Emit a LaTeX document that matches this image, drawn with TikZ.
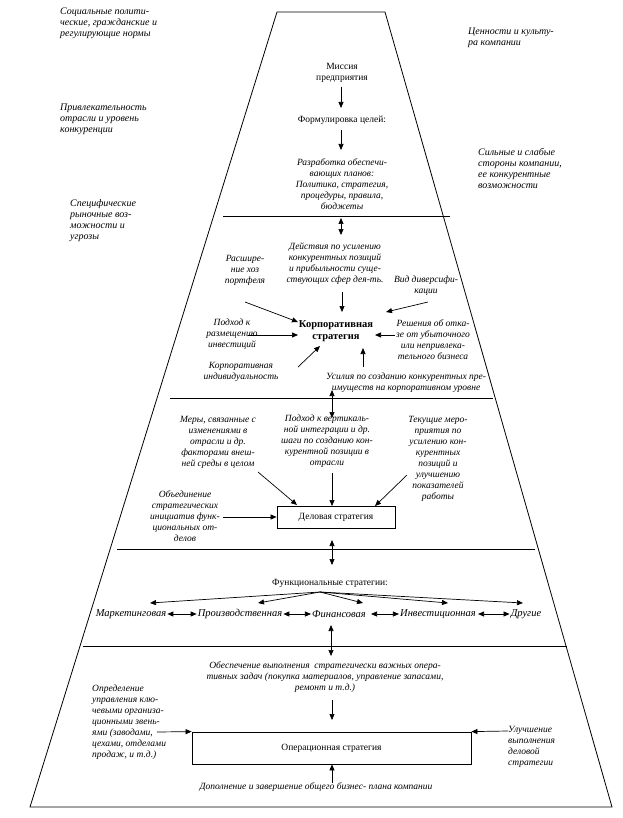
\documentclass[tikz,border=0pt]{standalone}
\usepackage{fontspec}
\setmainfont{Liberation Serif}
\usetikzlibrary{arrows.meta}
\begin{document}
\begin{tikzpicture}[x=1pt,y=-1pt,
  txt/.style={inner sep=0pt, font=\fontsize{9.5}{11}\selectfont\itshape, align=center},
  txtl/.style={txt, align=left, anchor=west},
  outl/.style={txtl, font=\fontsize{10}{11}\selectfont\itshape},
  rm/.style={inner sep=0pt, font=\fontsize{9.5}{11}\selectfont, align=center},
  fn/.style={inner sep=0pt, font=\fontsize{10.5}{12}\selectfont\itshape},
  tip/.style={-{Triangle[length=6pt,width=5pt]}, line width=0.7pt},
  dtip/.style={{Triangle[length=6pt,width=5pt]}-{Triangle[length=6pt,width=5pt]}, line width=0.7pt},
  ln/.style={line width=0.8pt},
  sbox/.style={draw, line width=0.8pt, inner sep=0pt, font=\fontsize{9.5}{11}\selectfont}
]
\useasboundingbox (0,0) rectangle (622,818);

% pyramid
\coordinate (tl) at (277,12); \coordinate (tr) at (385,12);
\coordinate (br) at (612,807); \coordinate (bl) at (30,807);
\draw[ln] (tl) -- (tr) -- (br) -- (bl) -- cycle;
\coordinate (l1a) at (223,216); \coordinate (l1b) at (450,216);
\coordinate (l2a) at (170,398); \coordinate (l2b) at (493,398);
\coordinate (l3a) at (117,549); \coordinate (l3b) at (535,549);
\coordinate (l4a) at (83,646);  \coordinate (l4b) at (567,646);
\draw[ln] (l1a) -- (l1b);
\draw[ln] (l2a) -- (l2b);
\draw[ln] (l3a) -- (l3b);
\draw[ln] (l4a) -- (l4b);

% outside texts
\node[outl] (soc) at (60,23) {Социальные полити-\\ческие, гражданские и\\регулирующие нормы};
\node[outl] (attr) at (60,119) {Привлекательность\\отрасли и уровень\\конкуренции};
\node[outl] (spec) at (70,221) {Специфические\\рыночные воз-\\можности и\\угрозы};
\node[outl] (val) at (468,38) {Ценности и культу-\\ра компании};
\node[outl] (swot) at (478,168) {Сильные и слабые\\стороны компании,\\ее конкурентные\\возможности};

% top section
\node[rm] (mission) at (342,72.5) {Миссия\\предприятия};
\node[rm] (goals) at (342,120) {Формулировка целей:};
\node[txt] (plans) at (342,184.5) {Разработка обеспечи-\\вающих планов:\\Политика, стратегия,\\процедуры, правила,\\бюджеты};
\coordinate (a1s) at (341,87);  \coordinate (a1e) at (341,108);
\coordinate (a2s) at (341,130); \coordinate (a2e) at (341,150);
\coordinate (d1s) at (341,218); \coordinate (d1e) at (341,235);
\draw[tip] (a1s) -- (a1e);
\draw[tip] (a2s) -- (a2e);
\draw[dtip] (d1s) -- (d1e);

% corporate section
\node[txt] (act) at (335,263.5) {Действия по усилению\\конкурентных позиций\\и прибыльности суще-\\ствующих сфер дея-ть.};
\node[inner sep=0pt, font=\fontsize{10.5}{12}\selectfont\bfseries, align=center] (corp) at (336,331) {Корпоративная\\стратегия};
\node[txt] (expand) at (245,270) {Расшире-\\ние хоз\\портфеля};
\node[txt] (divers) at (426,285.5) {Вид диверсифи-\\кации};
\node[txt] (invest) at (232,334) {Подход к\\размещению\\инвестиций};
\node[txt] (exit) at (433,339.5) {Решения об отка-\\зе от убыточного\\или непривлека-\\тельного бизнеса};
\node[txt] (ident) at (241,371.5) {Корпоративная\\индивидуальность};
\node[txt] (effort) at (406,382.5) {Усилия по созданию конкурентных пре-\\имуществ на корпоративном уровне};
\coordinate (a3s) at (342,292); \coordinate (a3e) at (342,312);
\coordinate (a4s) at (245,302); \coordinate (a4e) at (298,322);
\coordinate (a5s) at (428,302); \coordinate (a5e) at (386,312);
\coordinate (a6s) at (248,335); \coordinate (a6e) at (298,335);
\coordinate (a7s) at (395,335); \coordinate (a7e) at (375,335);
\coordinate (a8s) at (298,367); \coordinate (a8e) at (320,346);
\coordinate (a9s) at (363,367); \coordinate (a9e) at (363,348);
\coordinate (d2s) at (332,390); \coordinate (d2e) at (332,418);
\draw[tip] (a3s) -- (a3e);
\draw[tip] (a4s) -- (a4e);
\draw[tip] (a5s) -- (a5e);
\draw[tip] (a6s) -- (a6e);
\draw[tip] (a7s) -- (a7e);
\draw[tip] (a8s) -- (a8e);
\draw[tip] (a9s) -- (a9e);
\draw[dtip] (d2s) -- (d2e);

% business section
\node[txt] (meas) at (218,442) {Меры, связанные с\\изменениями в\\отрасли и др.\\факторами внеш-\\ней среды в целом};
\node[txt] (vert) at (327,441.5) {Подход к вертикаль-\\ной интеграции и др.\\шаги по созданию кон-\\курентной позиции в\\отрасли};
\node[txt] (cur) at (438,458.5) {Текущие меро-\\приятия по\\усилению кон-\\курентных\\позиций и\\улучшению\\показателей\\работы};
\node[txt] (unite) at (185,516.5) {Объединение\\стратегических\\инициатив функ-\\циональных от-\\делов};
\node[sbox, minimum width=118pt, minimum height=22pt] (bus) at (336,517) {Деловая стратегия};
\coordinate (a10s) at (258,472); \coordinate (a10e) at (297,505);
\coordinate (a11s) at (332,473); \coordinate (a11e) at (332,506);
\coordinate (a12s) at (407,475); \coordinate (a12e) at (375,506);
\coordinate (a13s) at (223,517);
\coordinate (d3s) at (332,540); \coordinate (d3e) at (332,565);
\draw[tip] (a10s) -- (a10e);
\draw[tip] (a11s) -- (a11e);
\draw[tip] (a12s) -- (a12e);
\draw[tip] (a13s) -- (bus.west);
\draw[dtip] (d3s) -- (d3e);

% functional section
\node[rm] (func) at (330,583) {Функциональные стратегии:};
\node[fn] (mkt) at (131,614) {Маркетинговая};
\node[fn] (prod) at (240,614) {Производственная};
\node[fn] (fin) at (339,614) {Финансовая};
\node[fn] (inv) at (438,614) {Инвестиционная};
\node[fn] (oth) at (526,614) {Другие};
\coordinate (fo) at (320,592);
\coordinate (f1) at (150,603); \coordinate (f2) at (258,603);
\coordinate (f3) at (363,603); \coordinate (f4) at (448,603);
\coordinate (f5) at (523,603);
\foreach \t in {f1,f2,f3,f4,f5} \draw[tip] (fo) -- (\t);
\draw[dtip] (mkt.east) ++(1,0) -- ([xshift=-1pt]prod.west);
\draw[dtip] (prod.east) ++(1,0) -- ([xshift=-1pt]fin.west);
\draw[dtip] (fin.east) ++(5,0) -- ([xshift=-1pt]inv.west);
\draw[dtip] (inv.east) ++(2,0) -- ([xshift=-1pt]oth.west);
\coordinate (d4s) at (331,625); \coordinate (d4e) at (331,656);
\draw[dtip] (d4s) -- (d4e);

% operational section
\node[txt] (ops) at (325,677.5) {Обеспечение выполнения \ стратегически важных опера-\\тивных задач (покупка материалов, управление запасами,\\ремонт и т.д.)};
\node[sbox, minimum width=279pt, minimum height=32pt] (opb) at (331.5,748) {Операционная стратегия};
\node[txtl] (def) at (92,722.5) {Определение\\управления клю-\\чевыми организа-\\ционными звень-\\ями (заводами,\\цехами, отделами\\продаж, и т.д.)};
\node[txtl] (impr) at (508,746.5) {Улучшение\\выполнения\\деловой\\стратегии};
\node[txt] (compl) at (316,787) {Дополнение и завершение общего бизнес- плана компании};
\coordinate (a14s) at (332,700); \coordinate (a14e) at (332,720);
\coordinate (a15s) at (157,732);
\coordinate (a16s) at (508,731);
\coordinate (a17s) at (332,783);
\draw[tip] (a14s) -- (a14e);
\draw[tip] (a15s) -- (opb.north west);
\draw[tip] (a16s) -- (opb.north east);
\draw[tip] (a17s) -- (a17s |- opb.south);
\end{tikzpicture}
\end{document}
